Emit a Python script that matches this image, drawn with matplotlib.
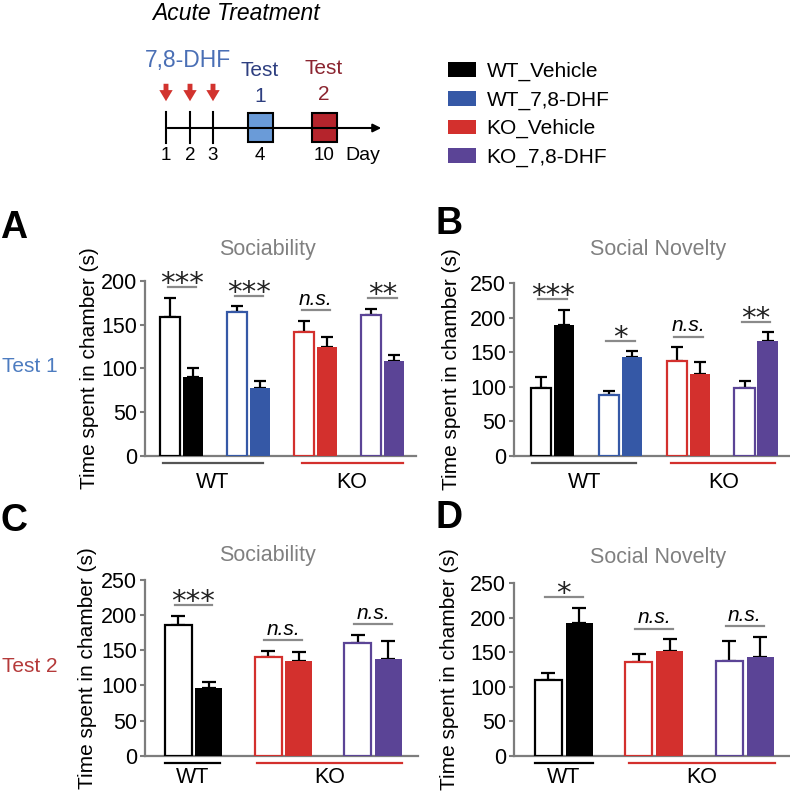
import numpy as np
import matplotlib
matplotlib.use("Agg")
import matplotlib.pyplot as plt
from matplotlib.patches import Rectangle, Patch

plt.rcParams['font.family'] = ['Liberation Sans', 'DejaVu Sans']

W, H = 790, 791

# ---- data ----
groups_t1 = ["WT_Vehicle", "WT_7,8-DHF", "KO_Vehicle", "KO_7,8-DHF"]
groups_t2 = ["WT_Vehicle", "KO_Vehicle", "KO_7,8-DHF"]

# Test 1, sociability (A)
a_open = [159, 165, 142, 161]
a_open_err = [22, 6, 12.5, 7.5]
a_fill = [90.5, 78, 125, 108.7]
a_fill_err = [10, 8, 11, 6.5]
a_sig = ["***", "***", "n.s.", "**"]

# Test 1, social novelty (B)
b_open = [97.7, 88, 136.8, 98]
b_open_err = [16, 6, 21, 10]
b_fill = [189, 142.6, 118.8, 165.8]
b_fill_err = [23, 9, 16.6, 13]
b_sig = ["***", "*", "n.s.", "**"]

# Test 2, sociability (C)
c_open = [185.5, 140.8, 160]
c_open_err = [13.5, 8.5, 12]
c_fill = [95.8, 135, 138]
c_fill_err = [9.5, 13, 25]
c_sig = ["***", "n.s.", "n.s."]

# Test 2, social novelty (D)
d_open = [109.7, 135.8, 137]
d_open_err = [10.5, 12, 29]
d_fill = [191.9, 151.7, 143.5]
d_fill_err = [23, 17, 29]
d_sig = ["*", "n.s.", "n.s."]

day_labels = ["1", "2", "3", "4", "10"]

colors = {"WT_Vehicle": "#000000", "WT_7,8-DHF": "#3558a6",
          "KO_Vehicle": "#d3302d", "KO_7,8-DHF": "#5b4496"}
GRAY = "#7d7d7d"


def frac(x0, x1, ytop, ybot):
    return [x0 / W, 1 - ybot / H, (x1 - x0) / W, (ybot - ytop) / H]


fig = plt.figure(figsize=(W / 100, H / 100), dpi=100)

# overlay axes in pixel units for the schematic
ov = fig.add_axes([0, 0, 1, 1])
ov.set_xlim(0, W)
ov.set_ylim(H, 0)
ov.axis("off")

ov.text(236, 13, "Acute Treatment", style="italic", fontsize=16.5, ha="center", va="center")
ov.text(188, 61, "7,8-DHF", color="#4a6fb5", fontsize=16.5, ha="center", va="center")
tl_x = [166, 190, 213, 260, 324]
ov.annotate("", xy=(384, 128), xytext=(165, 128),
            arrowprops=dict(arrowstyle="-|>", lw=1.5, color="black", mutation_scale=12))
for x in tl_x[:3]:
    ov.plot([x, x], [112, 143], color="black", lw=1.5)
    ov.annotate("", xy=(x, 104), xytext=(x, 81),
                arrowprops=dict(arrowstyle="simple,head_width=0.6,head_length=0.5,tail_width=0.22",
                                color="#d2332e", lw=0, mutation_scale=16))
ov.add_patch(Rectangle((248, 113), 25, 29, facecolor="#6a9bd8", edgecolor="black", lw=1.5))
ov.add_patch(Rectangle((312, 113), 25, 29, facecolor="#b5242c", edgecolor="black", lw=1.5))
for x, lab in zip(tl_x, day_labels):
    ov.text(x, 156, lab, fontsize=13.5, ha="center", va="center")
ov.text(363, 155, "Day", fontsize=14, ha="center", va="center")
ov.text(260, 70, "Test", color="#2e3f80", fontsize=15, ha="center", va="center")
ov.text(260, 96, "1", color="#2e3f80", fontsize=15, ha="center", va="center")
ov.text(324, 68, "Test", color="#8b2530", fontsize=15, ha="center", va="center")
ov.text(324, 95, "2", color="#8b2530", fontsize=15, ha="center", va="center")

ov.text(2, 367, "Test 1", color="#4d7cc0", fontsize=15, ha="left", va="center")
ov.text(2, 667, "Test 2", color="#b53a3a", fontsize=15, ha="left", va="center")

for lab, (x, y) in zip("ABCD", [(0, 228), (436, 224), (0, 521), (436, 518)]):
    ov.text(x, y, lab, fontsize=27, fontweight="bold", ha="left", va="center")

fig.legend(handles=[Patch(facecolor=colors[g], edgecolor="none") for g in groups_t1],
           labels=groups_t1, loc="upper left", bbox_to_anchor=(448 / W, 1 - 62 / H),
           frameon=False, fontsize=15, handlelength=1.35, handleheight=0.7,
           handletextpad=0.5, labelspacing=0.45, borderaxespad=0, borderpad=0)


def panel(box, xmin, ymax, yticks, groups, op, op_err, fi, fi_err, sig, title, title_xy,
          wt_span, ko_span, wt_col, capsize, lab_x, grp_off):
    ax = fig.add_axes(frac(*box))
    n = len(groups)
    x = np.arange(n)
    w, off = 0.3, 0.17
    for i, g in enumerate(groups):
        c = colors[g]
        ax.bar(x[i] - off, op[i], w, facecolor="white", edgecolor=c, lw=1.6, zorder=3)
        ax.bar(x[i] + off, fi[i], w, color=c, zorder=3)
    ax.errorbar(x - off, op, yerr=[np.zeros(n), op_err], fmt="none", ecolor="black",
                elinewidth=1.6, capsize=capsize, capthick=1.6, zorder=2)
    ax.errorbar(x + off, fi, yerr=[np.zeros(n), fi_err], fmt="none", ecolor="black",
                elinewidth=1.6, capsize=capsize, capthick=1.6, zorder=2)
    ax.set_ylim(0, ymax)
    ax.set_xlim(xmin, n - 0.5)
    for i in range(n):
        top = max(op[i] + op_err[i], fi[i] + fi_err[i]) + 0.06 * ymax
        ax.plot([x[i] - 0.21, x[i] + 0.21], [top, top], color="#8a8a8a", lw=1.6, clip_on=False)
        if sig[i] == "n.s.":
            ax.annotate(sig[i], xy=(x[i], top), xytext=(0, 4), textcoords="offset points",
                        ha="center", va="baseline", fontsize=15, style="italic",
                        annotation_clip=False)
        else:
            ax.annotate(sig[i], xy=(x[i], top), xytext=(0, -3.5), textcoords="offset points",
                        ha="center", va="baseline", fontsize=21, color="#222222",
                        family="DejaVu Sans", annotation_clip=False)
    hpx = box[3] - box[2]
    yl = -7.5 / hpx
    ax.plot(wt_span, [yl, yl], color=wt_col, lw=1.6, transform=ax.get_xaxis_transform(), clip_on=False)
    ax.plot(ko_span, [yl, yl], color=colors["KO_Vehicle"], lw=1.6,
            transform=ax.get_xaxis_transform(), clip_on=False)
    for lab, span in (("WT", wt_span), ("KO", ko_span)):
        ax.annotate(lab, xy=(np.mean(span), 0), xycoords=("data", "axes fraction"),
                    xytext=(0, grp_off), textcoords="offset points", ha="center", va="baseline",
                    fontsize=15.5, annotation_clip=False)
    for s in ("top", "right"):
        ax.spines[s].set_visible(False)
    for s in ("left", "bottom"):
        ax.spines[s].set_color(GRAY)
        ax.spines[s].set_linewidth(1.6)
    ax.spines["left"].set_bounds(0, yticks[-1])
    ax.set_yticks(yticks)
    ax.set_xticks([])
    ax.tick_params(axis="y", direction="out", length=3.5, width=1.5, color=GRAY, pad=2,
                   labelsize=15.5)
    ax.set_ylabel("Time spent in chamber (s)", fontsize=15)
    ax.yaxis.set_label_coords(lab_x / (box[1] - box[0]), 0.5)
    ax.patch.set_visible(False)
    fig.text(title_xy[0] / W, 1 - title_xy[1] / H, title, color="#808080", fontsize=15.5,
             ha="center", va="center")
    return ax


panel((145, 416, 281, 455.7), -0.55, 200, [0, 50, 100, 150, 200], groups_t1,
      a_open, a_open_err, a_fill, a_fill_err, a_sig, "Sociability", (267, 250),
      (-0.28, 1.21), (1.79, 3.3), "#555555", 4, -46, -23)
panel((514, 790, 283.3, 455.7), -0.57, 250, [0, 50, 100, 150, 200, 250], groups_t1,
      b_open, b_open_err, b_fill, b_fill_err, b_sig, "Social Novelty", (658, 250),
      (-0.3, 1.23), (1.75, 3.28), "#555555", 4, -53, -23)
panel((145, 418, 580, 755.7), -0.54, 250, [0, 50, 100, 150, 200, 250], groups_t2,
      c_open, c_open_err, c_fill, c_fill_err, c_sig, "Sociability", (267, 555),
      (-0.32, 0.29), (0.71, 2.32), "black", 5, -48, -20)
panel((514, 790, 583.3, 755.7), -0.55, 250, [0, 50, 100, 150, 200, 250], groups_t2,
      d_open, d_open_err, d_fill, d_fill_err, d_sig, "Social Novelty", (658, 557),
      (-0.32, 0.32), (0.72, 2.33), "black", 5, -55, -20)

fig.savefig("out.png", dpi=100)
